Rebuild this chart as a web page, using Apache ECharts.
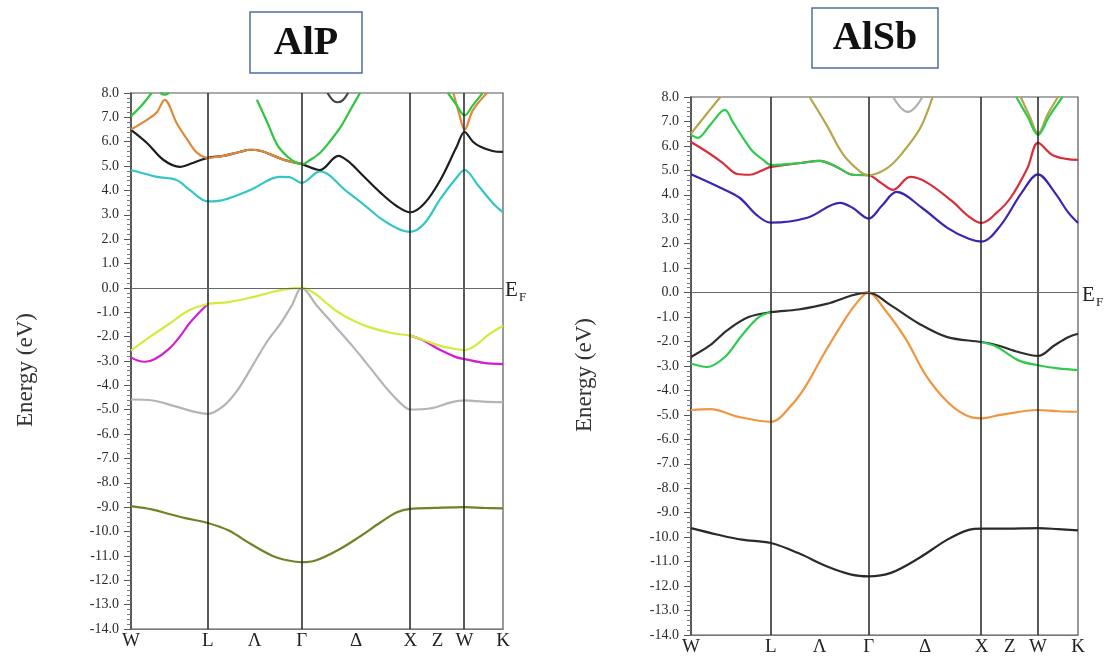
<!DOCTYPE html>
<html>
<head>
<meta charset="utf-8">
<script src="https://cdn.jsdelivr.net/npm/echarts@6/dist/echarts.min.js"></script>
<style>
  html, body { margin: 0; padding: 0; background: #ffffff; }
  #chart { width: 1105px; height: 657px; }
</style>
</head>
<body>
<div id="chart"></div>
<script>
// Path W–L–Γ–X–W–K through the fcc Brillouin zone, distance in units of 2π/a
const kSymmetryLines = [0.707, 1.573, 2.573, 3.073];
const kTickValues = [0, 0.707, 1.14, 1.573, 2.073, 2.573, 2.823, 3.073, 3.427];
const kTickLabels = ['W', 'L', 'Λ', 'Γ', 'Δ', 'X', 'Z', 'W', 'K'];
const kMax = 3.427;
const energyMin = -14;
const energyMax = 8;

// ---- AlP bands: [k, E (eV)] ----
const alpS = [[0,-8.96],[0.2,-9.1],[0.35,-9.28],[0.5,-9.45],[0.707,-9.65],[0.9,-9.96],[1.1,-10.5],[1.3,-10.99],[1.45,-11.19],[1.573,-11.26],[1.7,-11.19],[1.9,-10.78],[2.1,-10.23],[2.3,-9.62],[2.45,-9.21],[2.573,-9.07],[2.8,-9.03],[3.073,-9.0],[3.25,-9.03],[3.427,-9.05]];
const alpGray = [[0,-4.58],[0.2,-4.62],[0.4,-4.85],[0.6,-5.1],[0.707,-5.17],[0.856,-4.83],[0.988,-4.15],[1.12,-3.19],[1.25,-2.23],[1.385,-1.41],[1.48,-0.73],[1.573,0],[1.713,-0.73],[1.875,-1.55],[2.037,-2.37],[2.2,-3.26],[2.36,-4.15],[2.49,-4.76],[2.573,-4.99],[2.75,-4.95],[2.95,-4.7],[3.073,-4.62],[3.25,-4.67],[3.427,-4.69]];
const alpMagentaWL = [[0,-2.85],[0.06,-2.98],[0.13,-3.03],[0.22,-2.92],[0.35,-2.5],[0.45,-2.0],[0.53,-1.5],[0.62,-1.05],[0.707,-0.66]];
const alpMagentaXK = [[2.573,-1.96],[2.69,-2.15],[2.85,-2.55],[3.0,-2.85],[3.073,-2.92],[3.25,-3.08],[3.427,-3.13]];
const alpYellow = [[0,-2.57],[0.19,-1.96],[0.35,-1.48],[0.53,-0.93],[0.707,-0.66],[0.9,-0.58],[1.1,-0.4],[1.3,-0.17],[1.45,-0.04],[1.573,0],[1.7,-0.25],[1.8,-0.62],[1.91,-1.0],[2.05,-1.35],[2.2,-1.62],[2.4,-1.85],[2.573,-1.96],[2.7,-2.15],[2.85,-2.38],[2.98,-2.5],[3.073,-2.55],[3.17,-2.37],[3.3,-1.9],[3.427,-1.55]];
const alpCyan = [[0,4.84],[0.24,4.56],[0.42,4.43],[0.54,4.02],[0.707,3.55],[0.85,3.61],[1.1,4.02],[1.37,4.56],[1.46,4.55],[1.573,4.31],[1.74,4.78],[1.99,3.95],[2.15,3.4],[2.3,2.85],[2.45,2.45],[2.573,2.3],[2.7,2.63],[2.85,3.65],[3.0,4.53],[3.073,4.84],[3.2,4.19],[3.35,3.4],[3.427,3.1]];
const alpBlack = [[0,6.49],[0.147,5.95],[0.3,5.25],[0.45,4.97],[0.57,5.13],[0.707,5.34],[0.85,5.42],[1.0,5.58],[1.1,5.67],[1.2,5.62],[1.3,5.45],[1.4,5.27],[1.5,5.15],[1.573,5.08],[1.74,4.84],[1.91,5.42],[2.0,5.2],[2.15,4.55],[2.3,3.9],[2.45,3.35],[2.573,3.1],[2.7,3.45],[2.85,4.43],[3.0,5.79],[3.073,6.4],[3.15,6.0],[3.22,5.79],[3.33,5.62],[3.427,5.58]];
const alpOrange = [[0,6.5],[0.175,6.98],[0.24,7.22],[0.31,7.72],[0.42,6.77],[0.52,6.08],[0.61,5.54],[0.707,5.34],[0.85,5.42],[1.0,5.58],[1.1,5.67],[1.2,5.62],[1.3,5.45],[1.4,5.27],[1.5,5.15],[1.573,5.1]];
const alpOrangeW = [[2.97,8.0],[3.02,7.2],[3.073,6.5],[3.15,7.3],[3.28,8.0]];
const alpGreenW = [[0,7.05],[0.1,7.5],[0.19,8.0]];
const alpGreenTop = [[0.27,8.0],[0.31,7.93],[0.35,8.0]];
const alpGreenGamma = [[1.16,7.72],[1.25,6.85],[1.35,5.85],[1.45,5.35],[1.52,5.15],[1.573,5.08],[1.65,5.25],[1.74,5.54],[1.83,6.0],[1.93,6.6],[2.02,7.3],[2.11,8.0]];
const alpGreenW2 = [[2.92,8.0],[3.0,7.5],[3.073,7.08],[3.15,7.5],[3.24,8.0]];
const alpDarkTop = [[1.81,8.0],[1.86,7.7],[1.9,7.62],[1.95,7.7],[2.0,8.0]];

// ---- AlSb bands: [k, E (eV)] ----
const sbS = [[0,-9.63],[0.24,-9.9],[0.45,-10.1],[0.707,-10.24],[0.95,-10.65],[1.2,-11.19],[1.42,-11.53],[1.573,-11.6],[1.77,-11.46],[2.02,-10.85],[2.27,-10.1],[2.46,-9.7],[2.573,-9.65],[2.8,-9.65],[3.073,-9.63],[3.25,-9.67],[3.427,-9.72]];
const sbOrange = [[0,-4.8],[0.17,-4.76],[0.42,-5.08],[0.707,-5.28],[0.89,-4.6],[1.02,-3.79],[1.17,-2.56],[1.33,-1.34],[1.45,-0.52],[1.573,0],[1.71,-0.66],[1.9,-1.88],[2.08,-3.38],[2.27,-4.46],[2.43,-5.0],[2.573,-5.14],[2.74,-5.0],[3.073,-4.8],[3.25,-4.85],[3.427,-4.87]];
const sbGreenWL = [[0,-2.9],[0.14,-3.04],[0.3,-2.63],[0.45,-1.75],[0.6,-1.0],[0.707,-0.8]];
const sbGreenXK = [[2.573,-2.02],[2.71,-2.22],[2.9,-2.77],[3.073,-2.97],[3.25,-3.1],[3.427,-3.17]];
const sbBlackTop = [[0,-2.63],[0.17,-2.15],[0.32,-1.54],[0.51,-1.0],[0.707,-0.8],[0.95,-0.69],[1.2,-0.46],[1.42,-0.12],[1.5,-0.03],[1.573,0],[1.77,-0.52],[2.02,-1.27],[2.27,-1.82],[2.573,-2.02],[2.71,-2.15],[2.9,-2.43],[3.073,-2.59],[3.22,-2.15],[3.34,-1.82],[3.427,-1.68]];
const sbBlue = [[0,4.84],[0.26,4.29],[0.43,3.88],[0.58,3.18],[0.707,2.86],[1.03,3.06],[1.32,3.67],[1.43,3.47],[1.573,3.03],[1.69,3.55],[1.82,4.12],[2.05,3.45],[2.27,2.65],[2.46,2.2],[2.573,2.09],[2.74,2.74],[2.93,4.1],[3.073,4.84],[3.22,4.1],[3.34,3.28],[3.427,2.85]];
const sbRed = [[0,6.16],[0.14,5.76],[0.28,5.31],[0.41,4.85],[0.52,4.82],[0.62,4.98],[0.707,5.14],[0.97,5.3],[1.14,5.39],[1.29,5.14],[1.43,4.82],[1.573,4.8],[1.68,4.5],[1.79,4.2],[1.94,4.73],[2.09,4.5],[2.32,3.71],[2.45,3.15],[2.573,2.85],[2.71,3.28],[2.83,3.88],[2.98,5.1],[3.073,6.12],[3.2,5.63],[3.32,5.47],[3.427,5.43]];
const sbGreen = [[0,6.45],[0.06,6.33],[0.17,6.86],[0.3,7.47],[0.37,6.98],[0.46,6.33],[0.55,5.76],[0.64,5.43],[0.707,5.22],[0.97,5.3],[1.14,5.39],[1.29,5.14],[1.43,4.82],[1.573,4.8]];
const sbOliveW = [[0,6.5],[0.12,7.2],[0.26,8.0]];
const sbOliveGamma = [[1.05,8.0],[1.2,6.86],[1.35,5.63],[1.5,4.94],[1.573,4.8],[1.74,5.1],[1.88,5.76],[2.03,6.73],[2.14,8.0]];
const sbOliveW2 = [[2.92,8.0],[3.0,7.2],[3.073,6.5],[3.16,7.3],[3.25,8.0]];
const sbGreenW2 = [[2.88,8.0],[2.98,7.2],[3.073,6.45],[3.17,7.2],[3.29,8.0]];
const sbGrayTop = [[1.79,8.0],[1.86,7.55],[1.92,7.39],[1.98,7.55],[2.05,8.0]];

const serif = '"Liberation Serif", "DejaVu Serif", serif';

const panels = [
  { grid: { left: 131, top: 93, width: 372, height: 536 },
    bands: [
      [alpS, '#6d8426'], [alpGray, '#b4b4b4'], [alpMagentaWL, '#d21ed2'], [alpMagentaXK, '#d21ed2'],
      [alpYellow, '#d6ea3e'], [alpCyan, '#33c6c6'], [alpBlack, '#1e1e1e'], [alpOrange, '#df8a3a'],
      [alpOrangeW, '#df8a3a'], [alpGreenW, '#2fc63f'], [alpGreenTop, '#2fc63f'], [alpGreenGamma, '#2fc63f'],
      [alpGreenW2, '#2fc63f'], [alpDarkTop, '#444444']
    ] },
  { grid: { left: 691, top: 97, width: 387, height: 540 },
    bands: [
      [sbS, '#2a2a2a'], [sbOrange, '#ef9640'], [sbBlackTop, '#2e2e2e'], [sbGreenWL, '#2fcb4f'], [sbGreenXK, '#2fcb4f'],
      [sbBlue, '#3b26b4'], [sbRed, '#d62e3c'], [sbGreen, '#2fcb4f'], [sbOliveW, '#b4a64c'],
      [sbOliveGamma, '#b4a64c'], [sbOliveW2, '#b4a64c'], [sbGreenW2, '#2fcb4f'], [sbGrayTop, '#b0b0b0']
    ] }
];

const grid = [], xAxis = [], yAxis = [], series = [];
panels.forEach((p, i) => {
  grid.push(Object.assign({ show: true, borderColor: '#555', borderWidth: 1.2, backgroundColor: 'transparent' }, p.grid));
  xAxis.push({
    type: 'value', gridIndex: i, min: 0, max: kMax,
    axisLine: { show: true, onZero: false, lineStyle: { color: '#777', width: 1.2 } },
    axisTick: { show: false }, splitLine: { show: false },
    axisLabel: {
      customValues: kTickValues,
      formatter: v => {
        let best = 0;
        kTickValues.forEach((t, j) => { if (Math.abs(t - v) < Math.abs(kTickValues[best] - v)) best = j; });
        return kTickLabels[best];
      },
      fontFamily: serif, fontSize: 19, color: '#222', margin: 3
    }
  });
  yAxis.push({
    type: 'value', gridIndex: i, min: energyMin, max: energyMax, interval: 1,
    axisLine: { show: true, lineStyle: { color: '#444', width: 1.5 } },
    axisTick: { show: true, inside: false, length: 7, lineStyle: { color: '#555', width: 1 } },
    minorTick: { show: true, splitNumber: 5, length: 4, lineStyle: { color: '#777', width: 1 } },
    splitLine: { show: false },
    axisLabel: { formatter: v => v.toFixed(1), fontFamily: serif, fontSize: 14, color: '#2a2a2a', margin: 12 }
  });
  // symmetry-point verticals and the Fermi level
  series.push({
    type: 'line', xAxisIndex: i, yAxisIndex: i, data: [], silent: true, z: 1,
    markLine: {
      silent: true, symbol: 'none', animation: false,
      label: { show: false },
      lineStyle: { color: '#222', width: 1.5, type: 'solid' },
      data: kSymmetryLines.map(k => ({ xAxis: k })).concat([
        { yAxis: 0, lineStyle: { color: '#666', width: 1, type: 'solid' } }
      ])
    }
  });
  p.bands.forEach(([data, color]) => {
    series.push({
      type: 'line', xAxisIndex: i, yAxisIndex: i, data: data,
      smooth: 0.35, symbol: 'none', silent: true, z: 2,
      lineStyle: { color: color, width: 2.2 }
    });
  });
});

function titleBox(x, y, w, h, text) {
  return {
    type: 'group', children: [
      { type: 'rect', shape: { x: x, y: y, width: w, height: h }, style: { fill: '#fff', stroke: '#4f6f9f', lineWidth: 1.5 } },
      { type: 'text', x: x + w / 2, y: y + h / 2 + 1, style: { text: text, font: 'bold 40px ' + serif, fill: '#111', textAlign: 'center', textVerticalAlign: 'middle' } }
    ]
  };
}
function fermiLabel(x, y) {
  return {
    type: 'group', children: [
      { type: 'text', x: x, y: y, style: { text: 'E', font: '21px ' + serif, fill: '#222', textVerticalAlign: 'middle' } },
      { type: 'text', x: x + 14, y: y + 8, style: { text: 'F', font: '13px ' + serif, fill: '#222', textVerticalAlign: 'middle' } }
    ]
  };
}
function energyLabel(x, y) {
  return { type: 'text', x: x, y: y, rotation: Math.PI / 2,
    style: { text: 'Energy (eV)', font: '23px ' + serif, fill: '#333', textAlign: 'center', textVerticalAlign: 'middle' } };
}

const chart = echarts.init(document.getElementById('chart'), null, { renderer: 'canvas' });
chart.setOption({
  animation: false,
  backgroundColor: '#ffffff',
  grid, xAxis, yAxis, series,
  graphic: [
    titleBox(250, 12, 112, 61, 'AlP'),
    titleBox(812, 8, 126, 60, 'AlSb'),
    fermiLabel(505, 290),
    fermiLabel(1082, 295),
    energyLabel(26, 370),
    energyLabel(585, 375)
  ]
});
</script>
</body>
</html>
